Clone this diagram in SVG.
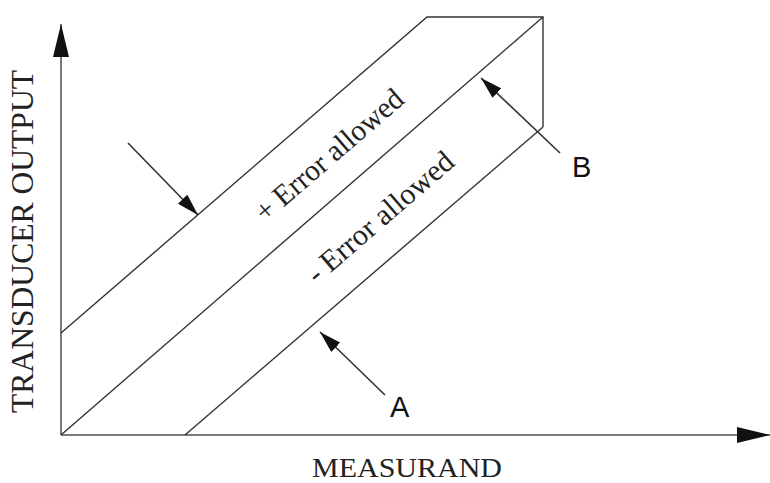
<svg xmlns="http://www.w3.org/2000/svg" width="770" height="483" viewBox="0 0 770 483">
<style>
.axis{stroke:#7a7a7a;stroke-width:2;fill:none}
.ln{stroke:#333;stroke-width:1.4;fill:none}
.ptr{stroke:#333;stroke-width:1.6;fill:none}
.serif{font-family:"Liberation Serif","Times New Roman",serif;fill:#222}
.sans{font-family:"Liberation Sans",Arial,sans-serif;fill:#111}
</style>
<defs>
<marker id="axh" markerUnits="userSpaceOnUse" markerWidth="34" markerHeight="16" refX="33" refY="8" orient="auto">
<path d="M0,0 L33,8 L0,16 z" fill="#111"/>
</marker>
<marker id="ah" markerUnits="userSpaceOnUse" markerWidth="23" markerHeight="13" refX="22" refY="6.5" orient="auto">
<path d="M0,0 L22,6.5 L0,13 z" fill="#111"/>
</marker>
</defs>
<g id="axes">
<line class="axis" x1="61" y1="435" x2="61" y2="24" marker-end="url(#axh)"/>
<line class="axis" x1="61" y1="435" x2="770" y2="435" marker-end="url(#axh)"/>
</g>
<g id="band">
<polyline class="ln" points="61,333 427,17 543,17 543,127"/>
<line class="ln" x1="61" y1="435" x2="543" y2="17"/>
<line class="ln" x1="185" y1="435" x2="543" y2="127"/>
</g>
<g id="connectors">
<line class="ptr" x1="128" y1="143" x2="198" y2="215" marker-end="url(#ah)"/>
<line class="ptr" x1="385" y1="395" x2="320" y2="332" marker-end="url(#ah)"/>
<line class="ptr" x1="560" y1="153" x2="481" y2="78" marker-end="url(#ah)"/>
</g>
<g id="labels">
<text class="serif" font-size="30" text-anchor="middle" transform="translate(329,155) rotate(-40.8)" x="0" y="10" textLength="186" lengthAdjust="spacingAndGlyphs">+ Error allowed</text>
<text class="serif" font-size="30" text-anchor="middle" transform="translate(380,217) rotate(-40.8)" x="0" y="10" textLength="184" lengthAdjust="spacingAndGlyphs">- Error allowed</text>
<text class="sans" font-size="29" x="390" y="417">A</text>
<text class="sans" font-size="29" x="572" y="177">B</text>
<text class="serif" font-size="28" x="312" y="477" textLength="190" lengthAdjust="spacingAndGlyphs">MEASURAND</text>
<text class="serif" font-size="31.5" text-anchor="middle" transform="translate(33,241.5) rotate(-90)" x="0" y="0" textLength="343" lengthAdjust="spacingAndGlyphs">TRANSDUCER OUTPUT</text>
</g>
</svg>
